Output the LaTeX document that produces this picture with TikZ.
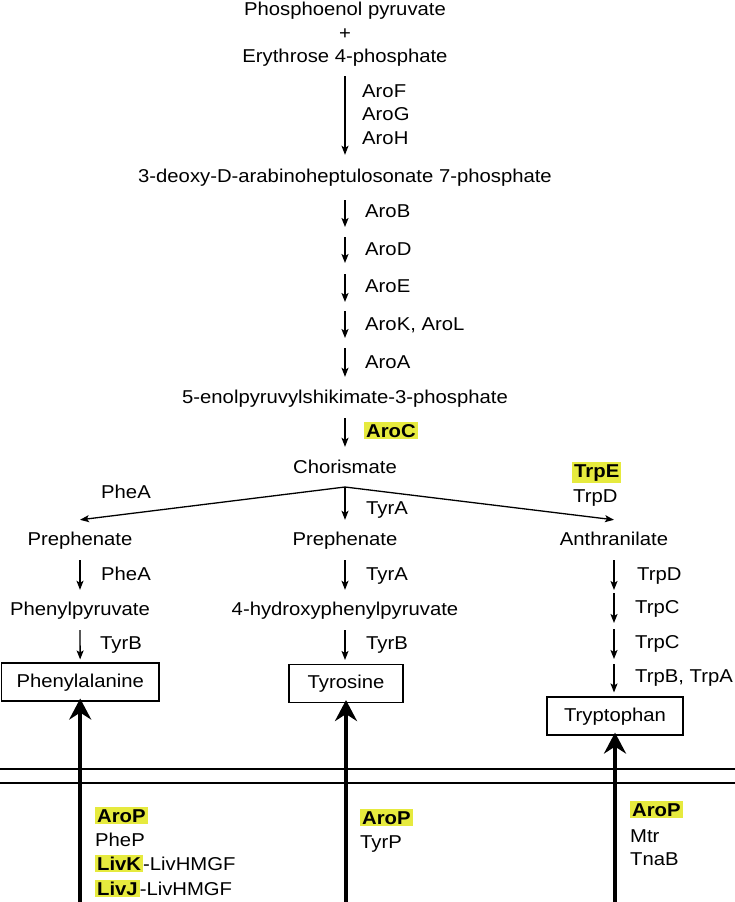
\documentclass[tikz,border=0pt]{standalone}
\usepackage{fontspec}
\setmainfont{Liberation Sans}[FakeStretch=1.09]
\usetikzlibrary{arrows.meta}
\definecolor{hly}{RGB}{230,234,62}
\newcommand{\hlt}[1]{{\setlength{\fboxsep}{2pt}\colorbox{hly}{\textbf{#1}}}}
\begin{document}
\begin{tikzpicture}[x=1pt,y=-1pt,
  font=\fontsize{18.6pt}{22pt}\selectfont,
  lbl/.style={inner sep=0pt, text height=14pt, text depth=4pt},
  lab/.style={lbl, anchor=west},
  box/.style={draw, line width=1.1pt, inner sep=0pt, text height=14pt, text depth=4pt, minimum height=38pt},
  arr/.style={line width=1.3pt, -{Stealth[length=9pt,width=7pt,inset=2pt]}},
  big/.style={line width=3.8pt, -{Stealth[length=21pt,width=22pt,inset=7pt]}},
  mem/.style={line width=1.3pt}]
\useasboundingbox (0,0) rectangle (735,902);

% main chain
\node[lbl] (pep) at (345,11) {Phosphoenol pyruvate};
\node[lbl] (plus) at (345,34) {+};
\node[lbl] (e4p) at (345,57) {Erythrose 4-phosphate};
\node[lbl] (dahp) at (345,177) {3-deoxy-D-arabinoheptulosonate 7-phosphate};
\coordinate (c1) at (345,232);
\coordinate (c2) at (345,268.5);
\coordinate (c3) at (345,306);
\coordinate (c4) at (345,343);
\node[lbl] (epsp) at (345,398) {5-enolpyruvylshikimate-3-phosphate};
\node[lbl] (chor) at (345,468) {Chorismate};
\coordinate (br) at (345,487);

\draw[arr, shorten <=10pt, shorten >=13pt] (e4p) -- (dahp);
\draw[arr, shorten <=14pt, shorten >=5pt] (dahp) -- (c1);
\draw[arr, shorten <=5pt, shorten >=5.5pt] (c1) -- (c2);
\draw[arr, shorten <=5.5pt, shorten >=4pt] (c2) -- (c3);
\draw[arr, shorten <=5pt, shorten >=5pt] (c3) -- (c4);
\draw[arr, shorten <=5pt, shorten >=12pt] (c4) -- (epsp);
\draw[arr, shorten <=11pt, shorten >=12pt] (epsp) -- (chor);

\node[lab] (aroF) at (362,92) {AroF};
\node[lab] (aroG) at (362,115) {AroG};
\node[lab] (aroH) at (362,139) {AroH};
\node[lab] (aroB) at (365,212) {AroB};
\node[lab] (aroD) at (365,250) {AroD};
\node[lab] (aroE) at (365,287) {AroE};
\node[lab] (aroK) at (365,325) {AroK, AroL};
\node[lab] (aroA) at (365,363) {AroA};
\node[lab] (aroC) at (364,432) {\hlt{AroC}};

% branches
\node[lbl] (prepL) at (80,540) {Prephenate};
\node[lbl] (prepM) at (345,540) {Prephenate};
\node[lbl] (anth) at (614,540) {Anthranilate};
\draw[arr] (br) -- ([yshift=11pt]prepL.north);
\draw[arr] (br) -- ([yshift=11pt]prepM.north);
\draw[arr] (br) -- ([yshift=11pt]anth.north);
\node[lab] (pheA1) at (101,493) {PheA};
\node[lab] (tyrA1) at (366,509) {TyrA};
\node[lab] (trpE) at (572,472) {\hlt{TrpE}};
\node[lab] (trpD1) at (573,497) {TrpD};

% second row
\node[lbl] (ppyr) at (80,610) {Phenylpyruvate};
\node[lbl] (hppyr) at (345,610) {4-hydroxyphenylpyruvate};
\draw[arr, shorten <=11pt, shorten >=11pt] (prepL) -- (ppyr);
\draw[arr, shorten <=11pt, shorten >=11pt] (prepM) -- (hppyr);
\node[lab] (pheA2) at (101,575) {PheA};
\node[lab] (tyrA2) at (366,575) {TyrA};

% boxes
\node[box, minimum width=157.6pt] (phe) at (80.2,682) {Phenylalanine};
\node[box, minimum width=114pt] (tyr) at (346,683.5) {Tyrosine};
\node[box, minimum width=136pt] (trp) at (615,716) {Tryptophan};
\draw[arr, shorten <=11pt, shorten >=3pt] (ppyr) -- (phe);
\draw[arr, shorten <=11pt, shorten >=4pt] (hppyr) -- (tyr.north -| hppyr);
\node[lab] (tyrB1) at (100,644) {TyrB};
\node[lab] (tyrB2) at (366,644) {TyrB};

% tryptophan chain
\coordinate (d1) at (614,591.5);
\coordinate (d2) at (614,626);
\coordinate (d3) at (614,661.5);
\draw[arr, shorten <=11pt, shorten >=1.5pt] (anth) -- (d1);
\draw[arr, shorten <=1.5pt, shorten >=3pt] (d1) -- (d2);
\draw[arr, shorten <=3pt, shorten >=2.5pt] (d2) -- (d3);
\draw[arr, shorten <=2.5pt, shorten >=4pt] (d3) -- (trp.north -| d3);
\node[lab] (trpD2) at (637,575) {TrpD};
\node[lab] (trpC1) at (635,608) {TrpC};
\node[lab] (trpC2) at (635,643) {TrpC};
\node[lab] (trpBA) at (635,677) {TrpB, TrpA};

% membrane
\draw[mem] (0,769) -- (735,769);
\draw[mem] (0,783) -- (735,783);

% transport
\coordinate (bL) at (80.2,902);
\coordinate (bM) at (346,902);
\coordinate (bR) at (615,902);
\draw[big, shorten >=-3pt] (bL) -- (phe);
\draw[big, shorten >=-3pt] (bM) -- (tyr);
\draw[big, shorten >=-3pt] (bR) -- (trp);

\node[lab] (aroPL) at (95,817) {\hlt{AroP}};
\node[lab] (pheP) at (95,841) {PheP};
\node[lab] (livK) at (95,865) {\hlt{LivK}-LivHMGF};
\node[lab] (livJ) at (95,890) {\hlt{LivJ}-LivHMGF};
\node[lab] (aroPM) at (360,819) {\hlt{AroP}};
\node[lab] (tyrP) at (360,843) {TyrP};
\node[lab] (aroPR) at (630,811) {\hlt{AroP}};
\node[lab] (mtr) at (630,837) {Mtr};
\node[lab] (tnaB) at (630,860) {TnaB};
\end{tikzpicture}
\end{document}
